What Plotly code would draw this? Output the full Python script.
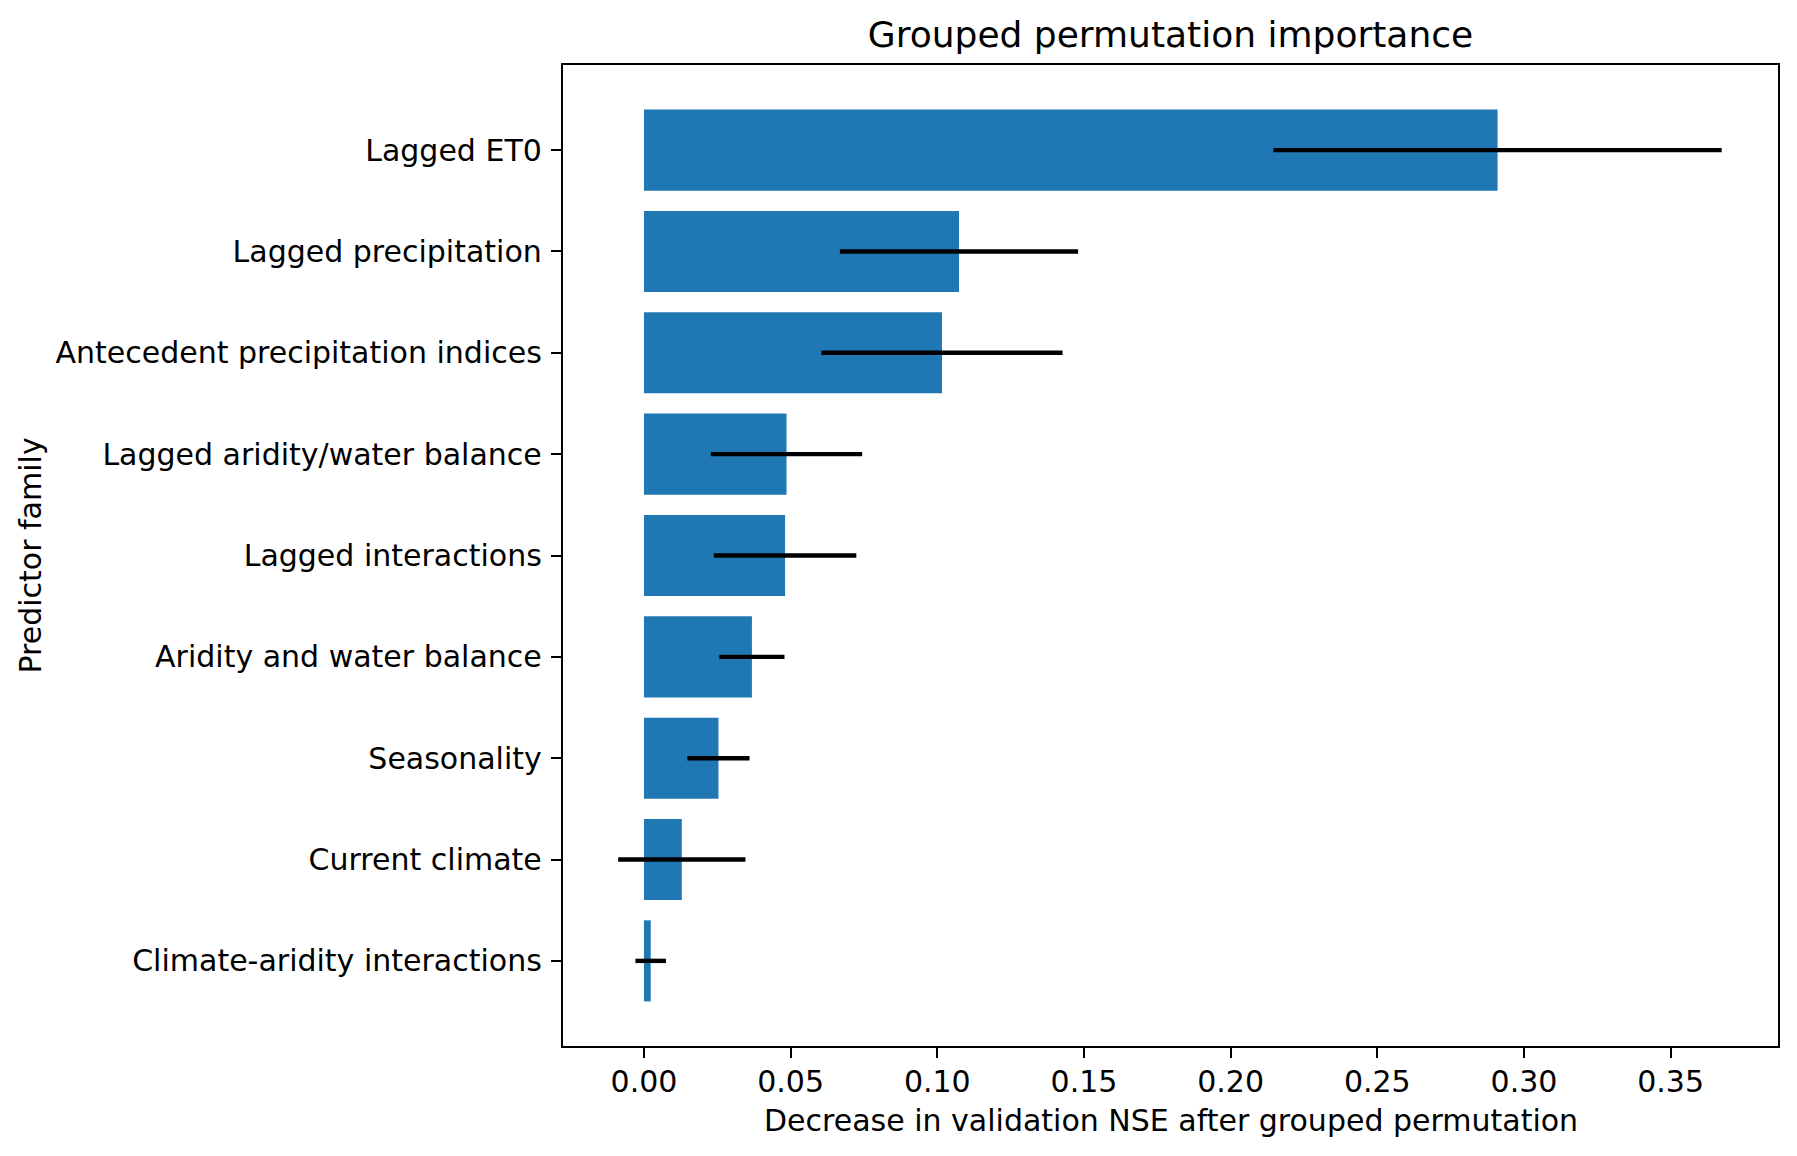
import plotly.graph_objects as go

# predictor families, top to bottom
families = [
    "Lagged ET0",
    "Lagged precipitation",
    "Antecedent precipitation indices",
    "Lagged aridity/water balance",
    "Lagged interactions",
    "Aridity and water balance",
    "Seasonality",
    "Current climate",
    "Climate-aridity interactions",
]
mean_drop = [0.291, 0.1074, 0.1016, 0.0486, 0.0481, 0.0368, 0.0254, 0.0129, 0.0023]
std_drop = [0.0764, 0.0406, 0.0411, 0.0258, 0.0243, 0.0111, 0.0106, 0.0217, 0.0052]

x_ticks = [0.0, 0.05, 0.10, 0.15, 0.20, 0.25, 0.30, 0.35]

FONT = "DejaVu Sans"
W, H = 1797, 1156
L, R, T, B = 555, 27, 57, 118

fig = go.Figure(
    go.Bar(
        x=mean_drop,
        y=families,
        orientation="h",
        width=0.8,
        marker=dict(color="#1f77b4", line=dict(width=0)),
        error_x=dict(type="data", array=std_drop, symmetric=True,
                     color="black", thickness=4.4, width=0),
    )
)

fig.update_layout(
    template="none",
    width=W,
    height=H,
    margin=dict(l=L, r=R, t=T, b=B),
    paper_bgcolor="white",
    plot_bgcolor="white",
    showlegend=False,
    font=dict(family=FONT, size=30, color="black"),
    title=dict(
        text="Grouped permutation importance",
        font=dict(family=FONT, size=36, color="black"),
        x=0.5, xref="paper", xanchor="center",
        y=1 - 26 / H, yref="container", yanchor="middle",
    ),
)

fig.update_xaxes(
    range=[-0.0276, 0.3866],
    tickvals=x_ticks,
    tickformat=".2f",
    ticks="outside", ticklen=10, tickwidth=2.4, tickcolor="black",
    ticklabelstandoff=-2,
    showline=True, linecolor="black", linewidth=2.4, mirror=True,
    showgrid=False, zeroline=False,
    tickfont=dict(family=FONT, size=30, color="black"),
)
fig.update_yaxes(
    type="category",
    categoryorder="array",
    categoryarray=families,
    range=[8.84, -0.84],
    ticks="outside", ticklen=10, tickwidth=2.4, tickcolor="black",
    ticklabelstandoff=3,
    showline=True, linecolor="black", linewidth=2.4, mirror=True,
    showgrid=False, zeroline=False,
    tickfont=dict(family=FONT, size=30, color="black"),
)

# axis titles placed like the reference
fig.add_annotation(
    text="Decrease in validation NSE after grouped permutation",
    xref="paper", yref="paper", x=0.5, y=-(1112 - (H - B)) / (H - T - B),
    xanchor="center", yanchor="middle", showarrow=False,
    font=dict(family=FONT, size=30, color="black"),
)
fig.add_annotation(
    text="Predictor family",
    xref="paper", yref="paper", x=-(L - 22) / (W - L - R), y=0.5,
    xanchor="center", yanchor="middle", textangle=-90, showarrow=False,
    font=dict(family=FONT, size=30, color="black"),
)

fig.write_html("out.html")
